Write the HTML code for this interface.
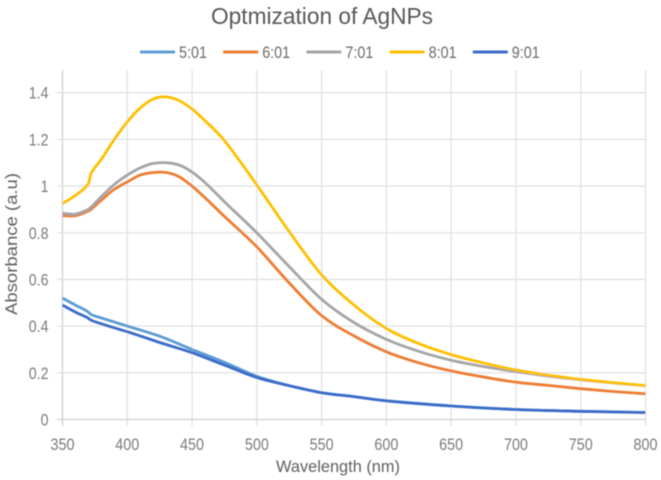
<!DOCTYPE html>
<html>
<head>
<meta charset="utf-8">
<style>
html,body{margin:0;padding:0;background:#fff;}
svg{display:block;font-family:"Liberation Sans",sans-serif;}
</style>
</head>
<body>
<svg id="chart" width="661" height="480" viewBox="0 0 661 480" xmlns="http://www.w3.org/2000/svg">
<defs><filter id="soft" x="-5%" y="-5%" width="110%" height="110%"><feGaussianBlur stdDeviation="0.55"/></filter></defs>
<rect width="661" height="480" fill="#fff"/>
<g id="root" filter="url(#soft)">
<text x="322" y="24" text-anchor="middle" font-size="23.5" fill="#595959" textLength="222" lengthAdjust="spacingAndGlyphs">Optmization of AgNPs</text>
<text x="338" y="472" text-anchor="middle" font-size="17" fill="#606060" textLength="124" lengthAdjust="spacingAndGlyphs">Wavelength (nm)</text>
<text transform="translate(17,244) rotate(-90)" text-anchor="middle" font-size="17" fill="#606060" textLength="142" lengthAdjust="spacingAndGlyphs">Absorbance (a.u)</text>
<g id="grid"></g>
<g id="ticks"></g>
<g id="series"></g>
<g id="legend"></g>
</g>
</svg>
<script>
var xTicks = [350, 400, 450, 500, 550, 600, 650, 700, 750, 800];
var yTicks = [0, 0.2, 0.4, 0.6, 0.8, 1, 1.2, 1.4];
var seriesNames = ['5:01', '6:01', '7:01', '8:01', '9:01'];
var wavelengthsHigh = [350,360,370,372,380,390,400,410,420,430,440,450,460,475,500,525,550,575,600,625,650,675,700,725,750,775,800];
var wavelengthsLow = [350,360,369,372,380,400,425,450,475,500,525,550,575,600,650,700,750,800];
var values501 = [0.52,0.49,0.464,0.45,0.435,0.40,0.357,0.30,0.245,0.185,0.145,0.115,0.098,0.08,0.058,0.043,0.035,0.03];
var values601 = [0.873,0.873,0.893,0.90,0.94,0.986,1.018,1.047,1.058,1.058,1.04,1.0,0.95,0.87,0.74,0.585,0.445,0.358,0.29,0.243,0.208,0.182,0.16,0.146,0.132,0.12,0.11];
var values701 = [0.883,0.88,0.90,0.91,0.955,1.007,1.047,1.078,1.097,1.10,1.09,1.06,1.015,0.933,0.80,0.655,0.515,0.415,0.343,0.292,0.254,0.227,0.205,0.186,0.17,0.157,0.145];
var values801 = [0.925,0.96,1.01,1.054,1.115,1.20,1.275,1.335,1.373,1.382,1.366,1.33,1.28,1.195,1.005,0.805,0.62,0.49,0.39,0.325,0.278,0.242,0.212,0.19,0.172,0.158,0.145];
var values901 = [0.49,0.46,0.437,0.426,0.41,0.376,0.33,0.286,0.233,0.18,0.145,0.115,0.098,0.08,0.058,0.043,0.035,0.03];
var seriesColors = ['#5b9bd5', '#ed7d31', '#a5a5a5', '#ffc000', '#3a6cc8'];
var seriesValues = [values501, values601, values701, values801, values901];
var seriesXs = [wavelengthsLow, wavelengthsHigh, wavelengthsHigh, wavelengthsHigh, wavelengthsLow];

var NS = 'http://www.w3.org/2000/svg';
function xScale(v) { return 62.5 + (v - 350) * (583 / 450); }
function yScale(v) { return 419.5 - v * (326.8 / 1.4); }
function make(tag, attrs, parent) {
  var el = document.createElementNS(NS, tag);
  for (var k in attrs) el.setAttribute(k, attrs[k]);
  parent.appendChild(el);
  return el;
}
function smoothPath(p) {
  var d = 'M' + p[0][0].toFixed(1) + ' ' + p[0][1].toFixed(1);
  for (var i = 0; i < p.length - 1; i++) {
    var a = p[Math.max(i - 1, 0)], b = p[i], c = p[i + 1], e = p[Math.min(i + 2, p.length - 1)];
    var k = (c[0] - b[0]);
    var m1 = (c[1] - a[1]) / (c[0] - a[0]);
    var m2 = (e[1] - b[1]) / (e[0] - b[0]);
    d += ' C' + (b[0] + k / 3).toFixed(1) + ' ' + (b[1] + m1 * k / 3).toFixed(1) + ' ' +
         (c[0] - k / 3).toFixed(1) + ' ' + (c[1] - m2 * k / 3).toFixed(1) + ' ' +
         c[0].toFixed(1) + ' ' + c[1].toFixed(1);
  }
  return d;
}
var grid = document.getElementById('grid');
var ticks = document.getElementById('ticks');
var seriesGroup = document.getElementById('series');
var legend = document.getElementById('legend');

xTicks.forEach(function (t, i) {
  var line = make('line', {x1: xScale(t), x2: xScale(t), y1: 70, y2: 426, stroke: i === 0 ? '#cfcfcf' : '#e2e2e2', 'stroke-width': 1.3}, grid);
  
  
  var label = make('text', {x: xScale(t), y: 450, 'text-anchor': 'middle', 'font-size': 16.5, fill: '#7a7a7a', textLength: 24, lengthAdjust: 'spacingAndGlyphs'}, ticks);
  label.textContent = t;
  
  
});
yTicks.forEach(function (t, i) {
  var line = make('line', {x1: 57, x2: 645.5, y1: yScale(t), y2: yScale(t), stroke: i === 0 ? '#cfcfcf' : '#e2e2e2', 'stroke-width': 1.3}, grid);
  
  
  var label = make('text', {'text-anchor': 'end', 'font-size': 16.5, fill: '#7a7a7a', transform: 'translate(48.5,' + (yScale(t) + 6) + ') scale(0.86,1)'}, ticks);
  label.textContent = t;
  
  
});
seriesNames.forEach(function (name, s) {
  var xs = seriesXs[s];
  var vals = seriesValues[s];
  var pts = xs.map(function (x, j) { return [xScale(x), yScale(vals[j])]; });
  var path = make('path', {d: smoothPath(pts), fill: 'none', stroke: seriesColors[s], 'stroke-width': 2.8, 'stroke-linejoin': 'round'}, seriesGroup);
  
  

  var lx = 140 + s * 83.2;
  var key = make('line', {x1: lx, x2: lx + 35, y1: 52, y2: 52, stroke: seriesColors[s], 'stroke-width': 3}, legend);
  
  
  var text = make('text', {x: lx + 39, y: 58, 'font-size': 16.5, fill: '#6a6a6a', textLength: 28, lengthAdjust: 'spacingAndGlyphs'}, legend);
  text.textContent = name;
  
  
});
</script>
</body>
</html>
